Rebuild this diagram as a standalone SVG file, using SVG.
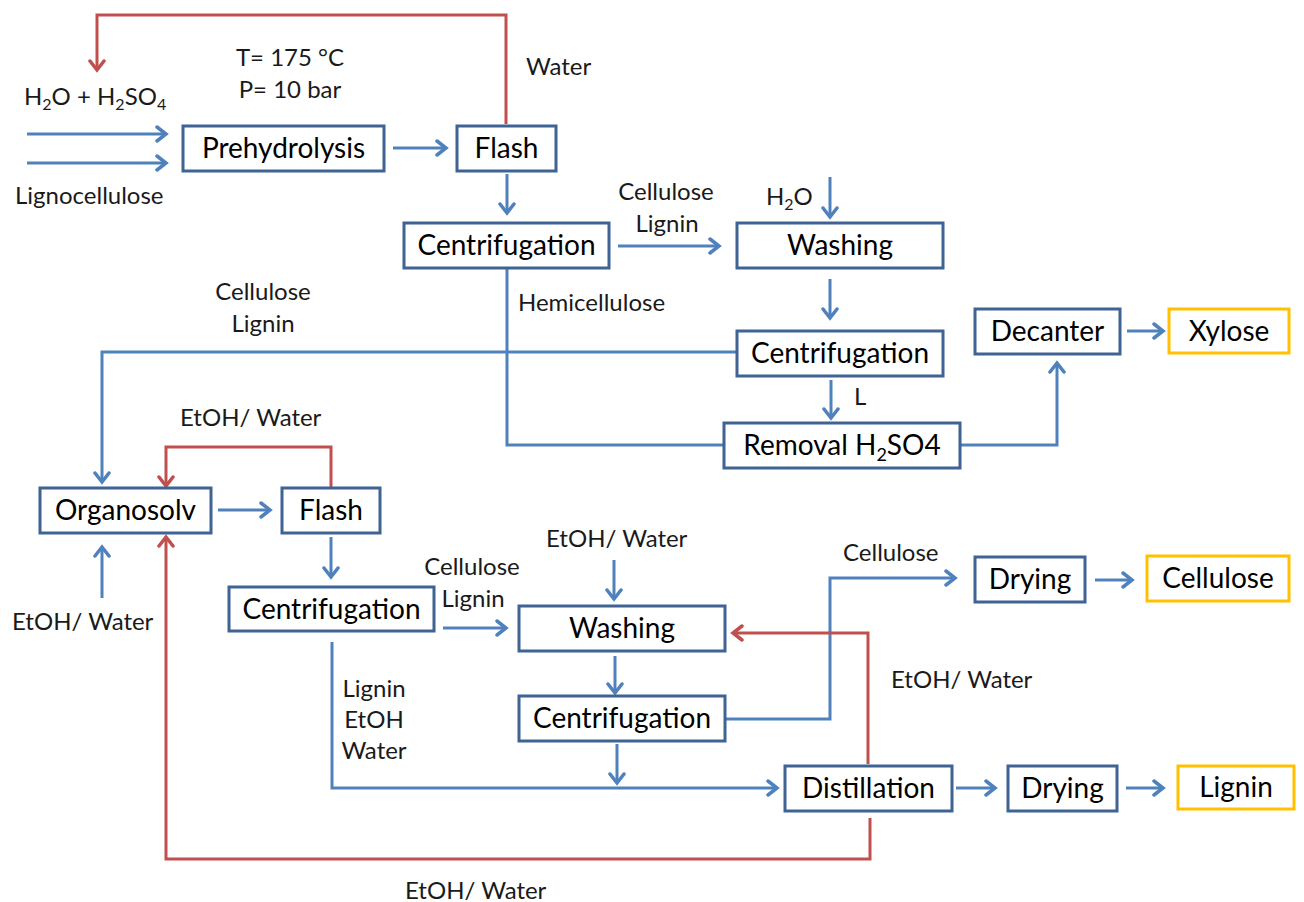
<svg xmlns="http://www.w3.org/2000/svg" width="1304" height="902" viewBox="0 0 1304 902">
<defs>
<style>
.box{fill:#fff;stroke:#3F6393;stroke-width:3}
.ybox{fill:#fff;stroke:#FFC000;stroke-width:3}
.bt{font-family:Lato,"Liberation Sans",sans-serif;font-size:28px;fill:#000;text-anchor:middle}
.lt{font-family:Lato,"Liberation Sans",sans-serif;font-size:24px;fill:#1a1a1a}
.b{fill:none;stroke:#4F81BD;stroke-width:3}
.r{fill:none;stroke:#C0504D;stroke-width:3}
.ab{marker-end:url(#mb)}
.ar{marker-end:url(#mr)}
</style>
<marker id="mb" markerUnits="userSpaceOnUse" markerWidth="16" markerHeight="18" refX="12" refY="9" orient="auto">
<path d="M3,2 L12,9 L3,16" fill="none" stroke="#4F81BD" stroke-width="3.5" stroke-linecap="round"/>
</marker>
<marker id="mr" markerUnits="userSpaceOnUse" markerWidth="16" markerHeight="18" refX="12" refY="9" orient="auto">
<path d="M3,2 L12,9 L3,16" fill="none" stroke="#C0504D" stroke-width="3.5" stroke-linecap="round"/>
</marker>
</defs>
<rect width="1304" height="902" fill="#fff"/>

<g id="connectors">
<path class="b ab" d="M27,134 H166"/>
<path class="b ab" d="M27,163 H166"/>
<path class="b ab" d="M393,148 H446"/>
<path class="b ab" d="M507,174 V213"/>
<path class="b ab" d="M618,246 H719"/>
<path class="b ab" d="M830,177 V217"/>
<path class="b ab" d="M830,279 V318"/>
<path class="b ab" d="M831,380 V418"/>
<path class="b" d="M507,268 V445 H724"/>
<path class="b ab" d="M960,445 H1057 V363"/>
<path class="b ab" d="M1127,331 H1163"/>
<path class="b ab" d="M737,352 H102 V482"/>
<path class="b ab" d="M218,510 H270"/>
<path class="b ab" d="M102,598 V547"/>
<path class="b ab" d="M331,537 V577"/>
<path class="b ab" d="M443,628 H506"/>
<path class="b ab" d="M614,560 V599"/>
<path class="b ab" d="M615,656 V693"/>
<path class="b ab" d="M725,719 H830 V578 H955"/>
<path class="b ab" d="M617,744 V783"/>
<path class="b ab" d="M332,642 V788 H777"/>
<path class="b ab" d="M956,788 H995"/>
<path class="b ab" d="M1126,788 H1163"/>
<path class="b ab" d="M1095,580 H1132"/>
<path class="r ar" d="M506,124 V15 H97 V70"/>
<path class="r ar" d="M331,488 V447 H166 V486"/>
<path class="r ar" d="M868,764 V633 H733"/>
<path class="r ar" d="M870,818 V859 H166 V537"/>
</g>

<g id="labels">
<text class="lt" x="290" y="66" text-anchor="middle">T= 175 °C</text>
<text class="lt" x="290" y="98" text-anchor="middle">P= 10 bar</text>
<text class="lt" x="526" y="75">Water</text>
<text class="lt" x="24" y="105">H<tspan font-size="16" dy="5">2</tspan><tspan dy="-5">O + H</tspan><tspan font-size="16" dy="5">2</tspan><tspan dy="-5">SO</tspan><tspan font-size="16" dy="5">4</tspan></text>
<text class="lt" x="15" y="204">Lignocellulose</text>
<text class="lt" x="666" y="200" text-anchor="middle">Cellulose</text>
<text class="lt" x="667" y="232" text-anchor="middle">Lignin</text>
<text class="lt" x="766" y="205">H<tspan font-size="16" dy="5">2</tspan><tspan dy="-5">O</tspan></text>
<text class="lt" x="518" y="311">Hemicellulose</text>
<text class="lt" x="263" y="300" text-anchor="middle">Cellulose</text>
<text class="lt" x="263" y="332" text-anchor="middle">Lignin</text>
<text class="lt" x="854" y="405">L</text>
<text class="lt" x="180" y="426">EtOH/ Water</text>
<text class="lt" x="12" y="630">EtOH/ Water</text>
<text class="lt" x="472" y="575" text-anchor="middle">Cellulose</text>
<text class="lt" x="473" y="607" text-anchor="middle">Lignin</text>
<text class="lt" x="546" y="547">EtOH/ Water</text>
<text class="lt" x="843" y="561">Cellulose</text>
<text class="lt" x="891" y="688">EtOH/ Water</text>
<text class="lt" x="374" y="697" text-anchor="middle">Lignin</text>
<text class="lt" x="374" y="728" text-anchor="middle">EtOH</text>
<text class="lt" x="374" y="759" text-anchor="middle">Water</text>
<text class="lt" x="405" y="899">EtOH/ Water</text>
</g>

<g id="prehydrolysis"><rect class="box" x="183" y="126" width="201" height="45"/><text class="bt" x="283.5" y="158">Prehydrolysis</text></g>
<g id="flash1"><rect class="box" x="457" y="126" width="99" height="45"/><text class="bt" x="506.5" y="158">Flash</text></g>
<g id="centrifugation1"><rect class="box" x="404" y="223" width="205" height="45"/><text class="bt" x="506.5" y="255">Centrifugation</text></g>
<g id="washing1"><rect class="box" x="737" y="223" width="206" height="45"/><text class="bt" x="840" y="255">Washing</text></g>
<g id="centrifugation2"><rect class="box" x="737" y="331" width="206" height="45"/><text class="bt" x="840" y="363">Centrifugation</text></g>
<g id="decanter"><rect class="box" x="975" y="309" width="145" height="45"/><text class="bt" x="1047.5" y="341">Decanter</text></g>
<g id="xylose"><rect class="ybox" x="1169" y="309" width="120" height="44"/><text class="bt" x="1229" y="341">Xylose</text></g>
<g id="removal"><rect class="box" x="724" y="423" width="236" height="45"/><text class="bt" x="842" y="455">Removal H<tspan font-size="18" dy="6">2</tspan><tspan dy="-6">SO4</tspan></text></g>
<g id="organosolv"><rect class="box" x="40" y="488" width="171" height="45"/><text class="bt" x="125.5" y="520">Organosolv</text></g>
<g id="flash2"><rect class="box" x="282" y="488" width="98" height="45"/><text class="bt" x="331" y="520">Flash</text></g>
<g id="centrifugation3"><rect class="box" x="229" y="587" width="205" height="44"/><text class="bt" x="331.5" y="619">Centrifugation</text></g>
<g id="washing2"><rect class="box" x="519" y="606" width="206" height="45"/><text class="bt" x="622" y="638">Washing</text></g>
<g id="centrifugation4"><rect class="box" x="519" y="696" width="206" height="45"/><text class="bt" x="622" y="728">Centrifugation</text></g>
<g id="drying1"><rect class="box" x="975" y="557" width="110" height="45"/><text class="bt" x="1030" y="589">Drying</text></g>
<g id="cellulose"><rect class="ybox" x="1147" y="556" width="142" height="45"/><text class="bt" x="1218" y="588">Cellulose</text></g>
<g id="distillation"><rect class="box" x="785" y="766" width="167" height="45"/><text class="bt" x="868.5" y="798">Distillation</text></g>
<g id="drying2"><rect class="box" x="1008" y="766" width="109" height="45"/><text class="bt" x="1062.5" y="798">Drying</text></g>
<g id="lignin"><rect class="ybox" x="1178" y="766" width="116" height="43"/><text class="bt" x="1236" y="797">Lignin</text></g>
</svg>
